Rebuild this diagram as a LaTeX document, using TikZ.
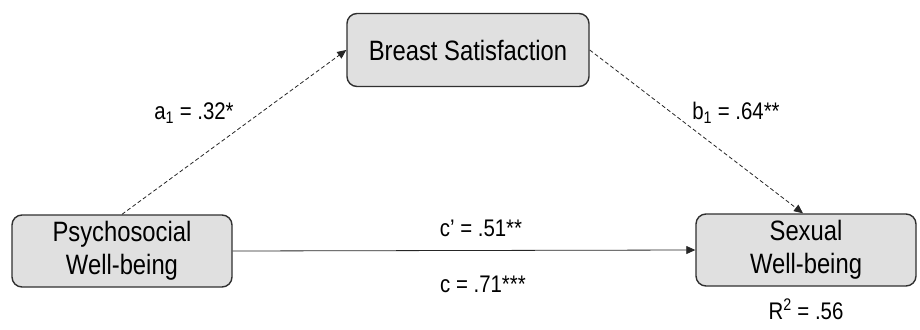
\documentclass[tikz,border=0pt]{standalone}
\usepackage{fontspec}
\setmainfont{Liberation Sans}[FakeStretch=0.85]
\usetikzlibrary{arrows.meta, positioning}

\definecolor{boxfill}{HTML}{E0E0E0}
\definecolor{boxline}{HTML}{303030}

\begin{document}
\begin{tikzpicture}[
  x=1pt, y=-1pt,
  box/.style={draw=boxline, line width=1.4pt, fill=boxfill, rounded corners=10pt, align=center,
    inner sep=0pt, font=\fontsize{28}{33}\selectfont},
  lbl/.style={font=\fontsize{24}{28}\selectfont, inner sep=0pt},
  arrow/.style={-{Triangle[length=9pt, width=8pt]}, line width=0.8pt, draw=black!85},
  dasharrow/.style={arrow, dash pattern=on 4pt off 2.5pt}
]
\useasboundingbox (0,0) rectangle (920,329);

\node[box, minimum width=242pt, minimum height=73pt] (breast) at (468,50) {Breast Satisfaction};
\node[box, minimum width=220pt, minimum height=72pt] (psycho) at (122,251) {Psychosocial\\Well-being};
\node[box, minimum width=220pt, minimum height=72pt] (sexual) at (806,250) {Sexual\\Well-being};

\draw[dasharrow] (psycho.north) -- (breast.west);
\draw[dasharrow] (breast.east) -- ([xshift=-3pt]sexual.north);
\draw[arrow] (psycho.east) -- (sexual.west);

\node[lbl] (alabel) at (194,113) {a\textsubscript{1} = .32*};
\node[lbl] (blabel) at (736,113) {b\textsubscript{1} = .64**};
\node[lbl] (cplabel) at (481,228) {c’ = .51**};
\node[lbl] (clabel) at (483,284) {c = .71***};
\node[lbl, below=12pt of sexual] (rlabel) {R\textsuperscript{2} = .56};

\end{tikzpicture}
\end{document}
